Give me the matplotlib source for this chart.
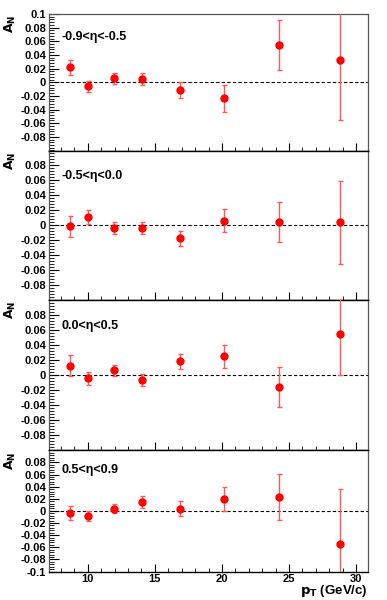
import matplotlib
matplotlib.use("Agg")
import matplotlib.pyplot as plt
from matplotlib.ticker import MultipleLocator, FixedLocator
import numpy as np

plt.rcParams['font.family'] = ['Liberation Sans', 'DejaVu Sans']
plt.rcParams['font.weight'] = 'bold'

pt = [8.63, 10.02, 11.92, 14.05, 16.87, 20.12, 24.23, 28.83]

labels = ["-0.9<\u03b7<-0.5", "-0.5<\u03b7<0.0", "0.0<\u03b7<0.5", "0.5<\u03b7<0.9"]

an_1 = [0.0217, -0.0059, 0.0059, 0.0049, -0.0114, -0.0232, 0.0543, 0.0326]
err_1 = [0.0110, 0.0084, 0.0080, 0.0090, 0.0124, 0.0198, 0.0368, 0.0880]
an_2 = [-0.0018, 0.0111, -0.0044, -0.0044, -0.0178, 0.0058, 0.0040, 0.0040]
err_2 = [0.0142, 0.0089, 0.0080, 0.0080, 0.0103, 0.0153, 0.0264, 0.0556]
an_3 = [0.0124, -0.0044, 0.0062, -0.0062, 0.0182, 0.0249, -0.0164, 0.0542]
err_3 = [0.0138, 0.0082, 0.0073, 0.0080, 0.0098, 0.0151, 0.0267, 0.0542]
an_4 = [-0.0033, -0.0083, 0.0039, 0.0144, 0.0033, 0.0200, 0.0228, -0.0539]
err_4 = [0.0110, 0.0086, 0.0080, 0.0097, 0.0125, 0.0200, 0.0383, 0.0900]

series = [(an_1, err_1), (an_2, err_2), (an_3, err_3), (an_4, err_4)]

W, H = 387, 600
fig = plt.figure(figsize=(W / 100, H / 100), dpi=100)

# panel boundaries in pixels (top, bottom)
bounds = [(14, 150.5), (150.5, 299.8), (299.8, 450.3), (450.3, 571.5)]
text_y = [37, 176, 326, 470]
left, right = 49, 368

for i, ((top, bot), (an, err), lab) in enumerate(zip(bounds, series, labels)):
    ax = fig.add_axes([left / W, 1 - bot / H, (right - left) / W, (bot - top) / H])
    ax.set_xlim(7.1, 30.9)
    ax.set_ylim(-0.1, 0.1)
    ax.axhline(0, color='black', lw=0.8, ls=(0, (3, 2)), zorder=1)
    ax.errorbar(pt, an, yerr=err, fmt='o', color='red', ms=5.0, ecolor=(1, 0.35, 0.35),
                elinewidth=1.0, capsize=1.8, capthick=1.0, zorder=3)
    ax.text((62 - left) / (right - left), 1 - (text_y[i] - top) / (bot - top), lab,
            transform=ax.transAxes, fontsize=9, fontweight='bold', va='center', ha='left')

    # y ticks
    if i == 0:
        yt = [round(v, 2) for v in np.arange(-0.08, 0.1001, 0.02)]
    elif i == 3:
        yt = [round(v, 2) for v in np.arange(-0.1, 0.0801, 0.02)]
    else:
        yt = [round(v, 2) for v in np.arange(-0.08, 0.0801, 0.02)]
    ax.yaxis.set_major_locator(FixedLocator(yt))
    ax.set_yticklabels(['0' if abs(v) < 1e-9 else ('%g' % v) for v in yt])
    ax.yaxis.set_minor_locator(MultipleLocator(0.004))
    ax.tick_params(axis='y', which='major', direction='in', length=7, width=0.8,
                   labelsize=8, pad=2, right=False)
    ax.tick_params(axis='y', which='minor', direction='in', length=3.5, width=0.6, right=False)

    ax.xaxis.set_major_locator(MultipleLocator(5))
    ax.xaxis.set_minor_locator(MultipleLocator(1))
    ax.tick_params(axis='x', which='major', direction='in', length=6, width=0.8,
                   labelsize=8, pad=2, top=False)
    ax.tick_params(axis='x', which='minor', direction='in', length=3, width=0.6, top=False)
    if i < 3:
        ax.tick_params(axis='x', labelbottom=False)
    for lbl in ax.get_xticklabels() + ax.get_yticklabels():
        lbl.set_fontweight('bold')

    for s in ['left', 'right']:
        ax.spines[s].set_color('#555555')
        ax.spines[s].set_linewidth(0.9)
    ax.spines['bottom'].set_color('black')
    ax.spines['bottom'].set_linewidth(1.0)
    ax.spines['top'].set_color('black')
    ax.spines['top'].set_linewidth(1.0 if i > 0 else 0.9)
    if i == 0:
        ax.spines['top'].set_color('#555555')

    fig.text(10 / W, 1 - (top + 1) / H, r'$\mathbf{A_N}$', rotation=90, ha='center', va='top',
             fontsize=9)

fig.text(right / W, 1 - 583 / H, r'$\mathbf{p_T}$ (GeV/c)', ha='right', va='top',
         fontsize=9.5, fontweight='bold')

fig.savefig('out.png', dpi=100)
